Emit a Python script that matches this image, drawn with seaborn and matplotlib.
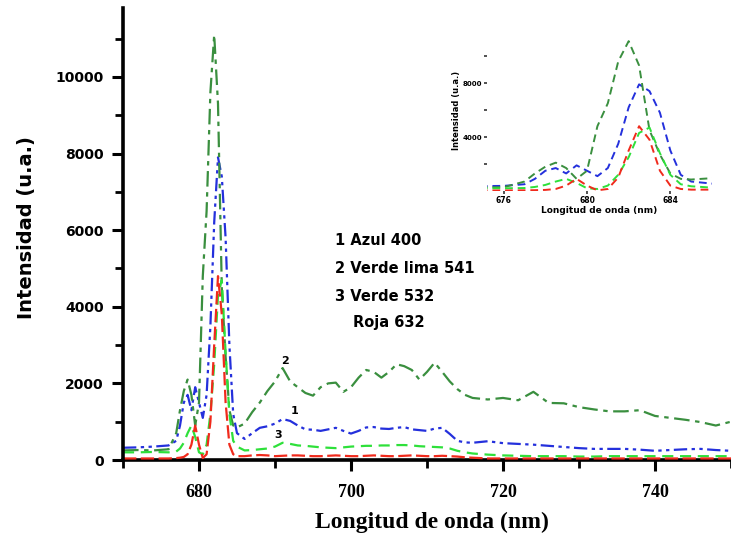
import matplotlib
matplotlib.use("Agg")
import matplotlib.pyplot as plt
from matplotlib.ticker import MultipleLocator, FixedLocator, NullFormatter
import pandas as pd
import seaborn as sns

# Wavelength axis shared by all spectra (nm)
wavelength_nm = [
    670, 672, 674, 676,
    677, 677.5, 678, 678.5, 679, 679.5, 680, 680.5, 681, 681.5, 682, 682.5,
    683, 683.5, 684, 684.5, 685,
    686, 687, 688, 689, 690, 691, 692, 693, 694, 695, 696, 697, 698, 699, 700,
    701, 702, 703, 704, 705, 706, 707, 708, 709, 710, 711, 712, 713, 714, 715, 716,
    718, 720, 722, 724, 726, 728, 730, 732, 734, 736, 738, 740, 742, 744, 746,
    748, 750,
]

# Emission intensity (u.a.) for each excitation
azul_400 = [
    320, 330, 350, 380,
    500, 900, 1500, 1700, 1300, 1900, 1500, 1100, 1700, 3500, 6200, 7900,
    7400, 5800, 3000, 1200, 700,
    550, 700, 840, 880, 950, 1070, 1020, 900, 800, 790, 760, 800, 840, 760, 690,
    760, 850, 860, 820, 810, 840, 860, 800, 780, 760, 820, 840, 680, 500, 460, 450,
    490, 440, 420, 400, 370, 340, 310, 290, 290, 290, 270, 240, 260, 280, 290,
    260, 240,
]
verde_541 = [
    250, 260, 250, 280,
    700, 1300, 1800, 2100, 1700, 900, 1500, 4800, 6500, 9600, 11100, 9300,
    4500, 2700, 1300, 900, 850,
    950, 1250, 1500, 1800, 2050, 2400, 2050, 1900, 1750, 1680, 1900, 2000, 2020,
    1780, 1900, 2150, 2350, 2300, 2150, 2300, 2500, 2450, 2350, 2100, 2300, 2540,
    2300, 2050, 1850, 1700, 1620,
    1580, 1620, 1560, 1780, 1490, 1480, 1380, 1320, 1270, 1270, 1300, 1150, 1100,
    1050, 990, 900, 1000,
]
verde_532 = [
    200, 200, 210, 200,
    220, 300, 450, 700, 900, 600, 200, 150, 400, 1200, 2500, 4300,
    4700, 2800, 1200, 500, 350,
    250, 260, 280, 300, 350, 450, 420, 380, 370, 350, 330, 320, 310, 330, 350,
    360, 370, 370, 380, 380, 390, 390, 380, 360, 350, 340, 330, 300, 240, 200, 170,
    140, 120, 110, 100, 100, 100, 90, 90, 100, 100, 100, 100, 100, 100, 100,
    100, 100,
]
roja_632 = [
    40, 40, 40, 40,
    50, 60, 80, 150, 400, 900, 400, 50, 150, 1000, 3000, 4800,
    3800, 1500, 400, 150, 100,
    100, 120, 130, 120, 100, 110, 120, 120, 110, 100, 100, 110, 120, 110, 100,
    100, 110, 120, 110, 100, 100, 110, 120, 110, 100, 100, 110, 100, 90, 70, 60,
    40, 40, 40, 40, 40, 40, 40, 40, 40, 40, 40, 40, 40, 40, 40,
    40, 40,
]

legend_lines = ["1 Azul 400", "2 Verde lima 541", "3 Verde 532", "Roja 632"]
x_ticks = [680, 700, 720, 740]
y_ticks = [0, 2000, 4000, 6000, 8000, 10000]
inset_x_ticks = [676, 680, 684]
inset_y_ticks = [4000, 8000]

spectra = [
    ("azul", azul_400, "#2430dc", (6, 2, 1.5, 2, 1.5, 2)),
    ("verde2", verde_541, "#3a8f3f", (7, 2.5, 2, 2.5)),
    ("verde3", verde_532, "#2ee03a", (5, 3)),
    ("roja", roja_632, "#f02a1c", (6, 2)),
]

frames = []
for name, values, _, _ in spectra:
    frames.append(pd.DataFrame({"wl": wavelength_nm, "I": values, "serie": name}))
df = pd.concat(frames, ignore_index=True)

sns.set_theme(style="white")
plt.rcParams["font.family"] = ["DejaVu Sans"]
plt.rcParams["text.color"] = "black"
plt.rcParams["xtick.color"] = "black"
plt.rcParams["ytick.color"] = "black"
plt.rcParams["axes.labelcolor"] = "black"

W, H = 731, 549
fig = plt.figure(figsize=(W / 100, H / 100), dpi=100)
ax = fig.add_axes([123 / W, 1 - 460 / H, (W - 123) / W, (460 - 8) / H])

for name, _, color, dash in spectra:
    sub = df[df["serie"] == name]
    sns.lineplot(data=sub, x="wl", y="I", ax=ax, color=color, linewidth=1.6,
                 estimator=None, sort=False, dashes=False)
    ax.lines[-1].set_dashes(dash)

ax.set_xlim(670, 750)
ax.set_ylim(0, 11800)
ax.set_xlabel("")
ax.set_ylabel("")
for side in ("top", "right"):
    ax.spines[side].set_visible(False)
for side in ("left", "bottom"):
    ax.spines[side].set_linewidth(2.6)
    ax.spines[side].set_color("black")
ax.spines["bottom"].set_zorder(0.5)

ax.xaxis.set_major_locator(FixedLocator(x_ticks))
ax.xaxis.set_minor_locator(MultipleLocator(10))
ax.yaxis.set_major_locator(FixedLocator(y_ticks))
ax.yaxis.set_minor_locator(MultipleLocator(1000))
ax.tick_params(axis="both", which="major", direction="out", length=8, width=2.2,
               color="black", labelcolor="black", left=True, bottom=True)
ax.tick_params(axis="both", which="minor", direction="out", length=6, width=2,
               color="black", left=True, bottom=True)
ax.tick_params(axis="y", which="major", pad=6)
ax.tick_params(axis="x", which="major", pad=9)
ax.set_xticklabels([str(t) for t in x_ticks], fontfamily="Liberation Serif",
                   fontweight="bold", fontsize=13)
ax.set_yticklabels([str(t) for t in y_ticks], fontweight="bold", fontsize=10)

fig.text(432 / W, 1 - 522 / H, "Longitud de onda (nm)", ha="center", va="center",
         fontfamily="Liberation Serif", fontweight="bold", fontsize=17, color="black")
fig.text(27 / W, 1 - 228 / H, "Intensidad (u.a.)", ha="center", va="center",
         rotation=90, fontweight="bold", fontsize=14, color="black")

# Excitation key
key_x = [697.9, 697.9, 697.9, 700.3]
key_y = [5740, 5010, 4280, 3600]
for txt, kx, ky in zip(legend_lines, key_x, key_y):
    ax.text(kx, ky, txt, ha="left", va="center", fontsize=10.5, fontweight="bold",
            color="black")

# Curve numbers
ax.text(691.3, 2450, "2", fontsize=8, fontweight="bold", ha="center", va="bottom")
ax.text(692.6, 1150, "1", fontsize=8, fontweight="bold", ha="center", va="bottom")
ax.text(690.4, 520, "3", fontsize=8, fontweight="bold", ha="center", va="bottom")

# Inset: zoom on the main emission band
ins = fig.add_axes([487 / W, 1 - 191 / H, 225 / W, 162 / H])
ins.patch.set_alpha(0)
for name, _, color, _ in spectra:
    sub = df[df["serie"] == name]
    sns.lineplot(data=sub, x="wl", y="I", ax=ins, color=color, linewidth=1.4,
                 estimator=None, sort=False, dashes=False)
    ins.lines[-1].set_dashes((4, 2.5))
ins.set_xlim(675.2, 686)
ins.set_ylim(0, 12000)
ins.set_xlabel("Longitud de onda (nm)", fontsize=6.5, fontweight="bold", labelpad=1)
ins.set_ylabel("Intensidad (u.a.)", fontsize=6, fontweight="bold", labelpad=1)
for side in ins.spines.values():
    side.set_visible(False)
ins.xaxis.set_major_locator(FixedLocator(inset_x_ticks))
ins.yaxis.set_major_locator(FixedLocator(inset_y_ticks))
ins.yaxis.set_minor_locator(FixedLocator([2000, 6000, 10000]))
ins.yaxis.set_minor_formatter(NullFormatter())
ins.tick_params(axis="both", which="both", direction="out", length=2, width=1.2,
                color="#333333", labelcolor="black", left=True, bottom=True, pad=1.5)
ins.set_xticklabels([str(t) for t in inset_x_ticks], fontsize=5.5, fontweight="bold")
ins.set_yticklabels([str(t) for t in inset_y_ticks], fontsize=5, fontweight="bold")

fig.savefig("out.png", dpi=100)
